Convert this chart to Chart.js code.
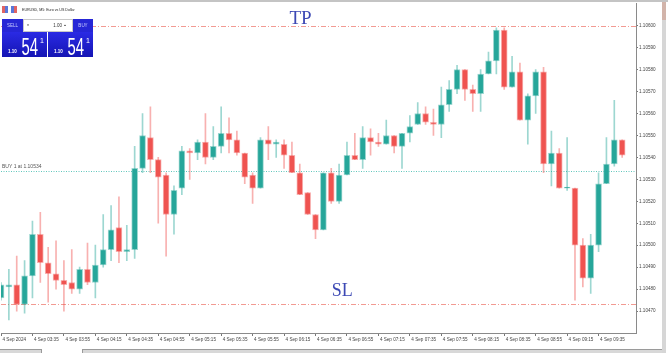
<!DOCTYPE html>
<html>
<head>
<meta charset="utf-8">
<script src="https://cdn.jsdelivr.net/npm/chart.js@4.4.1/dist/chart.umd.min.js"></script>
<style>
html, body { margin: 0; padding: 0; background: #fff; }
#wrap { position: relative; width: 668px; height: 353px; overflow: hidden; }
canvas { display: block; }
</style>
</head>
<body>
<div id="wrap"><canvas id="chart" width="668" height="353"></canvas></div>
<script>
// EURUSD M5, 4 Sep 2024
const times = ['03:15','03:20','03:25','03:30','03:35','03:40','03:45','03:50','03:55',
  '04:00','04:05','04:10','04:15','04:20','04:25','04:30','04:35','04:40','04:45','04:50','04:55',
  '05:00','05:05','05:10','05:15','05:20','05:25','05:30','05:35','05:40','05:45','05:50','05:55',
  '06:00','06:05','06:10','06:15','06:20','06:25','06:30','06:35','06:40','06:45','06:50','06:55',
  '07:00','07:05','07:10','07:15','07:20','07:25','07:30','07:35','07:40','07:45','07:50','07:55',
  '08:00','08:05','08:10','08:15','08:20','08:25','08:30','08:35','08:40','08:45','08:50','08:55',
  '09:00','09:05','09:10','09:15','09:20','09:25','09:30','09:35','09:40','09:45','09:50'];

const opens = [1.10476,1.10481,1.10482,1.10473,1.10486,1.10505,1.10492,1.10487,1.10484,1.10483,
  1.10480,1.10489,1.10483,1.10491,1.10498,1.10508,1.10497,1.10498,1.10535,1.10549,
  1.10539,1.10532,1.10514,1.10526,1.10543,1.10542,1.10547,1.10540,1.10545,1.10551,
  1.10548,1.10542,1.10532,1.10526,1.10548,1.10546,1.10546,1.10541,1.10533,1.10524,
  1.10514,1.10507,1.10533,1.10520,1.10532,1.10541,1.10539,1.10549,1.10547,1.10546,
  1.10550,1.10545,1.10551,1.10555,1.10560,1.10556,1.10555,1.10564,1.10571,1.10580,
  1.10571,1.10569,1.10578,1.10584,1.10598,1.10572,1.10579,1.10557,1.10568,1.10579,
  1.10537,1.10542,1.10526,1.10526,1.10500,1.10485,1.10500,1.10528,1.10537,1.10548];

const highs = [1.10483,1.10489,1.10495,1.10493,1.10511,1.10515,1.10499,1.10502,1.10493,1.10498,
  1.10490,1.10501,1.10500,1.10514,1.10518,1.10522,1.10509,1.10545,1.10560,1.10563,
  1.10540,1.10533,1.10527,1.10545,1.10544,1.10548,1.10560,1.10554,1.10563,1.10558,
  1.10552,1.10542,1.10533,1.10549,1.10554,1.10548,1.10548,1.10547,1.10537,1.10524,
  1.10514,1.10533,1.10535,1.10537,1.10547,1.10551,1.10554,1.10553,1.10551,1.10557,
  1.10550,1.10551,1.10559,1.10565,1.10563,1.10562,1.10572,1.10575,1.10582,1.10580,
  1.10573,1.10580,1.10588,1.10599,1.10599,1.10586,1.10583,1.10569,1.10580,1.10581,
  1.10552,1.10544,1.10549,1.10526,1.10503,1.10505,1.10533,1.10549,1.10566,1.10548];

const lows = [1.10475,1.10466,1.10470,1.10469,1.10476,1.10483,1.10474,1.10480,1.10470,1.10478,
  1.10478,1.10482,1.10476,1.10490,1.10493,1.10492,1.10493,1.10494,1.10533,1.10533,
  1.10510,1.10495,1.10505,1.10523,1.10530,1.10539,1.10537,1.10539,1.10542,1.10542,
  1.10541,1.10528,1.10519,1.10526,1.10539,1.10540,1.10535,1.10533,1.10523,1.10514,
  1.10503,1.10507,1.10519,1.10519,1.10532,1.10539,1.10535,1.10541,1.10545,1.10546,
  1.10542,1.10535,1.10547,1.10555,1.10555,1.10550,1.10549,1.10561,1.10569,1.10566,
  1.10561,1.10561,1.10578,1.10578,1.10571,1.10572,1.10557,1.10546,1.10560,1.10533,
  1.10527,1.10526,1.10525,1.10475,1.10481,1.10478,1.10497,1.10528,1.10536,1.10540];

const closes = [1.10482,1.10482,1.10473,1.10486,1.10505,1.10492,1.10487,1.10484,1.10482,1.10480,
  1.10489,1.10483,1.10491,1.10498,1.10507,1.10497,1.10498,1.10535,1.10550,1.10539,
  1.10531,1.10514,1.10525,1.10543,1.10542,1.10547,1.10540,1.10545,1.10551,1.10548,
  1.10542,1.10531,1.10526,1.10548,1.10546,1.10547,1.10541,1.10533,1.10523,1.10514,
  1.10507,1.10533,1.10520,1.10532,1.10541,1.10539,1.10549,1.10547,1.10546,1.10550,
  1.10545,1.10551,1.10554,1.10560,1.10556,1.10555,1.10564,1.10571,1.10580,1.10571,
  1.10569,1.10578,1.10584,1.10598,1.10572,1.10579,1.10557,1.10568,1.10579,1.10537,
  1.10542,1.10526,1.10526,1.10500,1.10485,1.10500,1.10528,1.10537,1.10548,1.10541];

const tickTimes = ['03:15','03:35','03:55','04:15','04:35','04:55','05:15','05:35','05:55','06:15',
  '06:35','06:55','07:15','07:35','07:55','08:15','08:35','08:55','09:15','09:35'];
const priceTicks = [1.10600,1.10590,1.10580,1.10570,1.10560,1.10550,1.10540,
  1.10530,1.10520,1.10510,1.10500,1.10490,1.10480,1.10470];

const tpPrice = 1.10600;
const slPrice = 1.10473;
const buyPrice = 1.10534;

const UP = '#26a69a', DOWN = '#ef5350';
const UP_L = 'rgba(38,166,154,0.45)', DOWN_L = 'rgba(239,83,80,0.45)';
const isUp = times.map((t, k) => closes[k] >= opens[k]);

const levels = {
  id: 'levels',
  beforeDatasetsDraw(chart) {
    const { ctx, chartArea: a, scales: { y } } = chart;
    ctx.save();
    const hline = (p, color, dash) => {
      const py = Math.round(y.getPixelForValue(p)) + 0.5;
      ctx.strokeStyle = color;
      ctx.lineWidth = 1;
      ctx.setLineDash(dash);
      ctx.beginPath();
      ctx.moveTo(a.left, py);
      ctx.lineTo(a.right, py);
      ctx.stroke();
    };
    hline(tpPrice, '#f29a92', [5, 2, 1, 2]);
    hline(slPrice, '#f29a92', [5, 2, 1, 2]);
    hline(buyPrice, '#62c6bc', [1, 1.5]);
    ctx.restore();
  },
  afterDatasetsDraw(chart) {
    const { ctx, scales: { x, y } } = chart;
    ctx.save();
    ctx.fillStyle = '#3c48b4';
    ctx.textAlign = 'center';
    ctx.textBaseline = 'middle';
    ctx.font = '19px "Liberation Serif"';
    ctx.fillText('TP', x.getPixelForValue(38.1), y.getPixelForValue(1.106032));
    ctx.font = '18px "Liberation Serif"';
    ctx.fillText('SL', x.getPixelForValue(43.4), y.getPixelForValue(1.10479));
    ctx.fillStyle = '#555';
    ctx.textAlign = 'left';
    ctx.textBaseline = 'bottom';
    ctx.font = '5px "Liberation Sans"';
    ctx.fillText('BUY 1 at ' + buyPrice.toFixed(5), 2, y.getPixelForValue(buyPrice) - 1);
    ctx.restore();
  },
  afterDraw(chart) {
    const ctx = chart.ctx;
    ctx.save();
    // window frame
    ctx.fillStyle = '#c4c4c4';
    ctx.fillRect(0, 0, 668, 2);
    ctx.fillStyle = '#d6d6d6';
    ctx.fillRect(662, 2, 4, 351);
    ctx.fillStyle = '#d2b4aa';
    ctx.fillRect(662, 2, 4, 18);
    ctx.fillStyle = '#d8d8d8';
    ctx.fillRect(0, 350, 662, 3);
    ctx.fillStyle = '#fff';
    ctx.fillRect(42, 349, 40, 4);
    ctx.fillStyle = '#9a9a9a';
    ctx.fillRect(0, 349, 42, 1);
    ctx.fillRect(82, 349, 580, 1);
    ctx.fillRect(41, 349, 1, 4);
    ctx.fillRect(82, 349, 1, 4);

    // title
    ctx.fillStyle = '#e06464'; ctx.fillRect(2, 6, 3, 7);
    ctx.fillStyle = '#5a78d8'; ctx.fillRect(5, 6, 3, 7);
    ctx.fillStyle = '#5a78d8'; ctx.fillRect(11, 6, 3, 7);
    ctx.fillStyle = '#e06464'; ctx.fillRect(14, 6, 3, 7);
    ctx.fillStyle = '#222';
    ctx.font = '3.6px "Liberation Sans"';
    ctx.textAlign = 'left';
    ctx.textBaseline = 'middle';
    ctx.fillText('EURUSD, M5: Euro vs US Dollar', 22, 10);

    // one click trading panel
    ctx.fillStyle = '#2626d6';
    ctx.fillRect(2, 19, 21, 13);
    ctx.fillRect(73, 19, 20, 13);
    ctx.fillStyle = '#fff';
    ctx.fillRect(23, 19, 50, 13);
    ctx.strokeStyle = '#c8c8c8';
    ctx.lineWidth = 1;
    ctx.strokeRect(23.5, 19.5, 49, 12);
    const g = ctx.createLinearGradient(0, 32, 0, 57);
    g.addColorStop(0, '#2a2ae4');
    g.addColorStop(1, '#1515b4');
    ctx.fillStyle = g;
    ctx.fillRect(2, 32, 45, 25);
    ctx.fillRect(48, 32, 45, 25);

    ctx.fillStyle = '#c8ccff';
    ctx.font = '4.5px "Liberation Sans"';
    ctx.textAlign = 'center';
    ctx.fillText('SELL', 12.5, 25.5);
    ctx.fillText('BUY', 83, 25.5);
    ctx.fillStyle = '#333';
    ctx.textAlign = 'right';
    ctx.fillText('1.00', 62, 25.5);
    ctx.beginPath();
    ctx.moveTo(27, 24.5); ctx.lineTo(29, 24.5); ctx.lineTo(28, 26); ctx.closePath();
    ctx.moveTo(64, 26); ctx.lineTo(66, 26); ctx.lineTo(65, 24.5); ctx.closePath();
    ctx.fill();

    ctx.fillStyle = '#fff';
    [0, 46].forEach(dx => {
      ctx.textAlign = 'left';
      ctx.textBaseline = 'alphabetic';
      ctx.font = 'bold 4.5px "Liberation Sans"';
      ctx.fillText('1.10', 8 + dx, 52.5);
      ctx.font = '7px "Liberation Sans"';
      ctx.fillText('1', 40 + dx, 43);
      ctx.save();
      ctx.translate(21.5 + dx, 55);
      ctx.scale(0.62, 1);
      ctx.font = '24px "Liberation Sans"';
      ctx.fillText('54', 0, 0);
      ctx.restore();
    });
    ctx.restore();
  }
};

const ctx = document.getElementById('chart').getContext('2d');
const axisFont = { family: 'Liberation Sans', size: 4.6 };

new Chart(ctx, {
  type: 'bar',
  data: {
    datasets: [{
      label: 'wick',
      data: times.map((t, k) => ({ x: k, y: [lows[k], highs[k]] })),
      backgroundColor: isUp.map(u => u ? UP_L : DOWN_L),
      barThickness: 1,
      grouped: false,
      order: 2
    }, {
      label: 'body',
      data: times.map((t, k) => ({ x: k, y: [opens[k], closes[k]] })),
      backgroundColor: isUp.map(u => u ? UP : DOWN),
      borderColor: isUp.map(u => u ? UP_L : DOWN_L),
      borderWidth: 1,
      borderSkipped: false,
      barThickness: 6,
      minBarLength: 1,
      grouped: false,
      order: 1
    }]
  },
  options: {
    responsive: false,
    devicePixelRatio: 1,
    animation: false,
    layout: { padding: { top: 2, right: 8, left: 0, bottom: 0 } },
    plugins: { legend: { display: false }, tooltip: { enabled: false } },
    scales: {
      x: {
        type: 'linear',
        offset: false,
        min: 0,
        max: 80.76,
        afterBuildTicks: s => { s.ticks = tickTimes.map(t => ({ value: times.indexOf(t) })); },
        afterFit: s => { s.height = 20; },
        grid: { offset: false, drawOnChartArea: false, drawTicks: true, tickLength: 3, color: '#777' },
        border: { color: '#8a8a8a' },
        ticks: {
          align: 'start',
          labelOffset: 1.5,
          padding: 1,
          autoSkip: false,
          maxRotation: 0,
          color: '#444',
          font: axisFont,
          callback: v => v === 0 ? '4 Sep 2024' : '4 Sep ' + times[v]
        }
      },
      y: {
        position: 'right',
        min: 1.10460,
        max: 1.10610,
        afterBuildTicks: s => { s.ticks = priceTicks.map(v => ({ value: v })); },
        afterFit: s => { s.width = 24; },
        grid: { drawOnChartArea: false, drawTicks: true, tickLength: 2, color: '#777' },
        border: { color: '#8a8a8a' },
        ticks: {
          padding: 1,
          autoSkip: false,
          color: '#444',
          font: axisFont,
          callback: v => v.toFixed(5)
        }
      }
    }
  },
  plugins: [levels]
});
</script>
</body>
</html>
